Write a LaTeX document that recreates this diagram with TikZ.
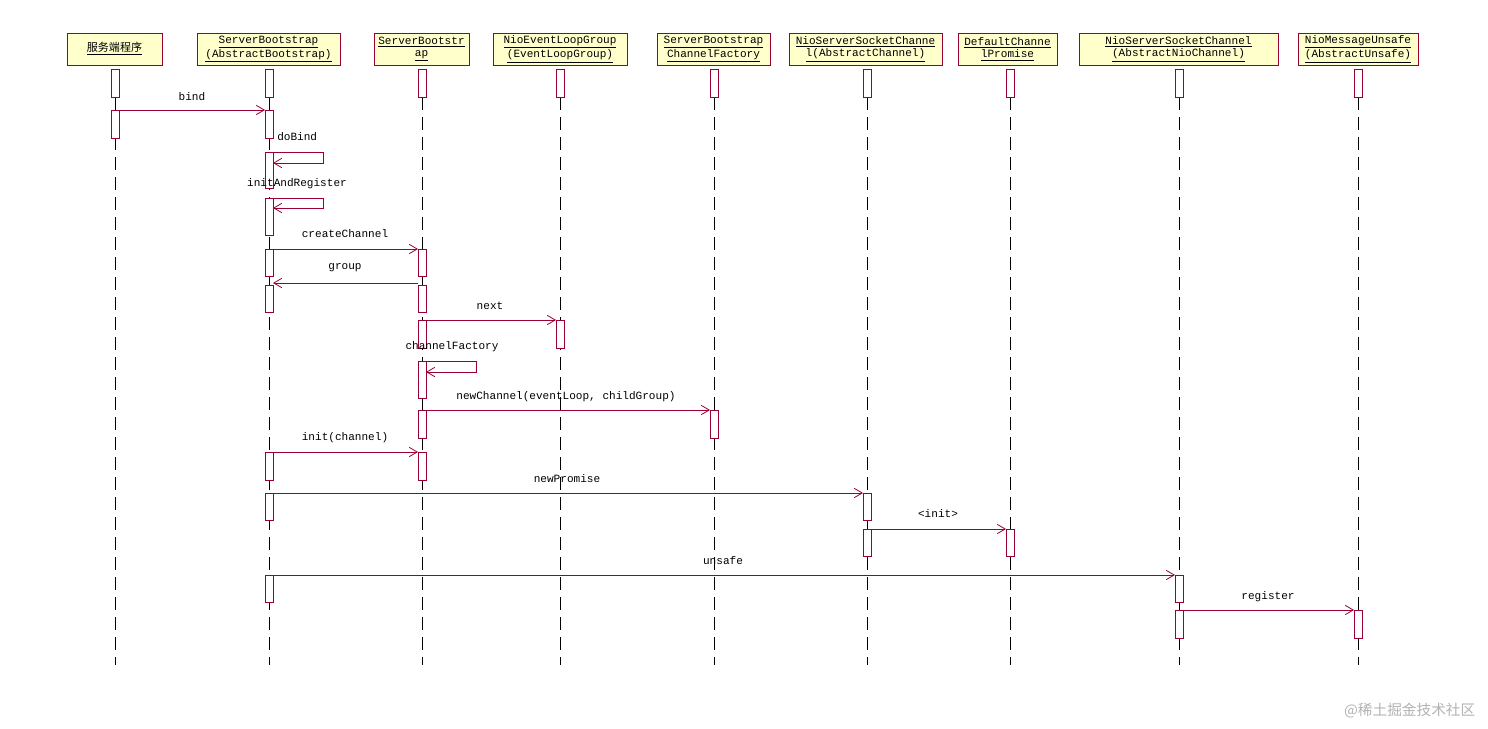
\documentclass[tikz,border=0pt]{standalone}
\usepackage{fontspec}
\setmainfont{Liberation Mono}
\newfontfamily\cjk{Noto Sans CJK SC}
\usetikzlibrary{arrows.meta}
\definecolor{umlred}{HTML}{990033}
\definecolor{umlfill}{HTML}{FFFFCC}
\tikzset{
  head/.style={draw=umlred, fill=umlfill, line width=0.6pt, minimum height=24pt, align=center, font=\fontsize{8.3}{9.3}\selectfont, inner sep=1pt},
  act/.style={draw=umlred, fill=white, line width=0.6pt},
  life/.style={dash pattern=on 10pt off 5pt, line width=0.75pt},
  msg/.style={draw=umlred, line width=0.6pt, -{Straight Barb[length=6pt,width=7pt]}},
  lbl/.style={font=\fontsize{8.3}{9.3}\selectfont, inner sep=0pt}
}
\newcommand{\actbox}[3]{\draw[act] (#1-4,#2) rectangle (#1+4,#3);}
\begin{document}
\begin{tikzpicture}[x=0.75pt,y=-0.75pt]
  \useasboundingbox (0,0) rectangle (1488,728);

  % lifeline heads: x, left, right, name, text
  \foreach \x/\l/\r/\n/\t in {
      115/67/162/srv/{\cjk\underline{服务端程序}},
      269/197/340/abs/{\underline{ServerBootstrap}\\\underline{(AbstractBootstrap)}},
      422/374/469/sbt/{\underline{ServerBootstr}\\\underline{ap}},
      560/493/627/elg/{\underline{NioEventLoopGroup}\\\underline{(EventLoopGroup)}},
      714/657/770/fac/{\underline{ServerBootstrap}\\\underline{ChannelFactory}},
      867/789/942/ach/{\underline{NioServerSocketChanne}\\\underline{l(AbstractChannel)}},
      1010/958/1057/prm/{\underline{DefaultChanne}\\\underline{lPromise}},
      1179/1079/1278/nch/{\underline{NioServerSocketChannel}\\\underline{(AbstractNioChannel)}},
      1358/1298/1418/uns/{\underline{NioMessageUnsafe}\\\underline{(AbstractUnsafe)}}}{
    \node[head, minimum width={(\r-\l)*0.75pt}] (\n) at ({(\l+\r)/2},49) {\t};
    \draw[life] (\x,97) -- (\x,665);
    \actbox{\x}{69}{97}
  }

  % bind
  \actbox{115}{110}{138}
  \actbox{269}{110}{138}
  \draw[msg] (119,110) -- (265,110);
  \node[lbl] (bind) at (192,97) {bind};
  % doBind
  \actbox{269}{152}{188}
  \draw[msg] (273,152) -- (323,152) -- (323,163) -- (273,163);
  \node[lbl, anchor=west] (dobind) at (277,137) {doBind};
  % initAndRegister
  \actbox{269}{198}{235}
  \draw[msg] (273,198) -- (323,198) -- (323,208) -- (273,208);
  \node[lbl] (initreg) at (297,184) {initAndRegister};
  % createChannel
  \actbox{269}{249}{276}
  \actbox{422}{249}{276}
  \draw[msg] (273,249) -- (418,249);
  \node[lbl] (create) at (345,234) {createChannel};
  % group
  \actbox{269}{285}{312}
  \actbox{422}{285}{312}
  \draw[msg] (418,283) -- (273,283);
  \node[lbl] (group) at (345,268) {group};
  % next
  \actbox{422}{320}{348}
  \actbox{560}{320}{348}
  \draw[msg] (426,320) -- (556,320);
  \node[lbl] (next) at (490,306) {next};
  % channelFactory
  \actbox{422}{361}{398}
  \draw[msg] (426,361) -- (476,361) -- (476,372) -- (426,372);
  \node[lbl] (chfac) at (452,347) {channelFactory};
  % newChannel
  \actbox{422}{410}{438}
  \actbox{714}{410}{438}
  \draw[msg] (426,410) -- (710,410);
  \node[lbl] (newch) at (566,397) {newChannel(eventLoop, childGroup)};
  % init(channel)
  \actbox{269}{452}{480}
  \actbox{422}{452}{480}
  \draw[msg] (273,452) -- (418,452);
  \node[lbl] (initch) at (345,438) {init(channel)};
  % newPromise
  \actbox{269}{493}{520}
  \actbox{867}{493}{520}
  \draw[msg] (273,493) -- (863,493);
  \node[lbl] (newprm) at (567,479) {newPromise};
  % <init>
  \actbox{867}{529}{556}
  \actbox{1010}{529}{556}
  \draw[msg] (871,529) -- (1006,529);
  \node[lbl] (init) at (938,514) {<init>};
  % unsafe
  \actbox{269}{575}{602}
  \actbox{1179}{575}{602}
  \draw[msg] (273,575) -- (1175,575);
  \node[lbl] (unsafe) at (723,561) {unsafe};
  % register
  \actbox{1179}{610}{638}
  \actbox{1358}{610}{638}
  \draw[msg] (1183,610) -- (1354,610);
  \node[lbl] (reg) at (1268,597) {register};

  \node[font=\cjk\fontsize{11}{13}\selectfont, text=gray!60, anchor=east] (mark) at (1480,711) {@稀土掘金技术社区};
\end{tikzpicture}
\end{document}
